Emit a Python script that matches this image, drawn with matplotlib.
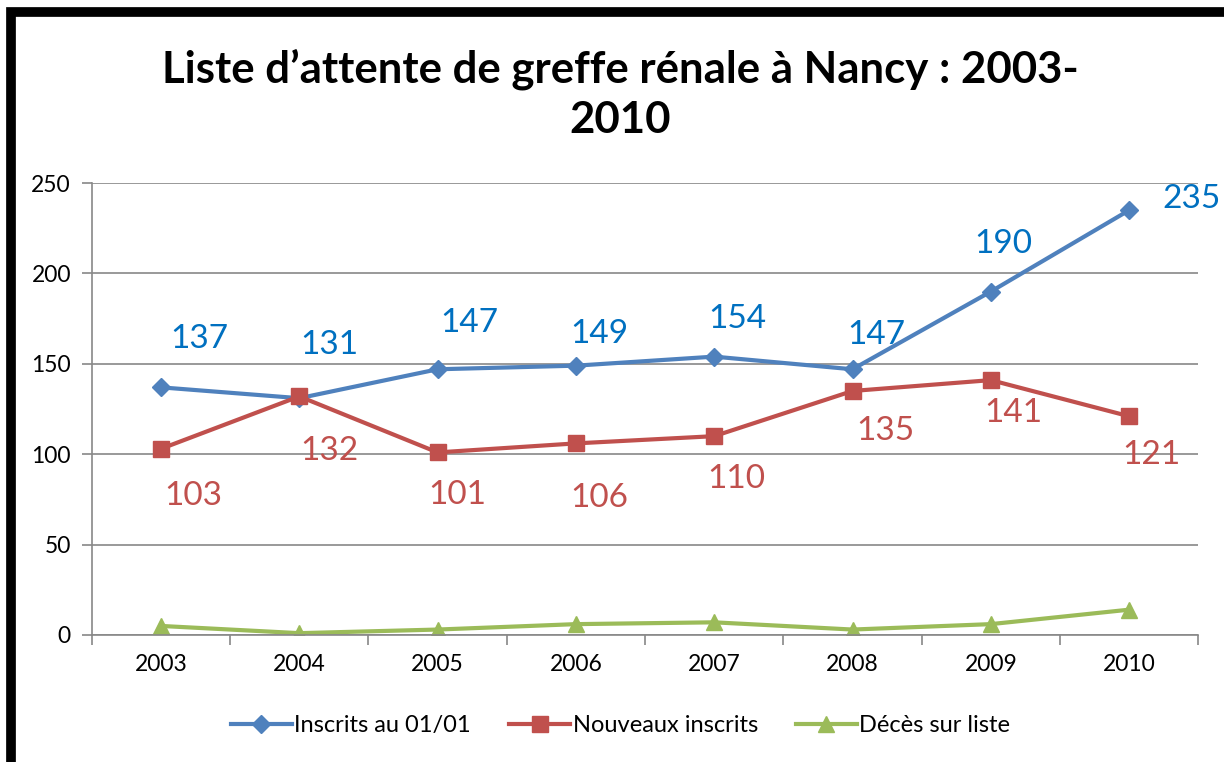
import matplotlib.pyplot as plt
from matplotlib.patches import Rectangle

plt.rcParams['font.family'] = ['Lato', 'DejaVu Sans']

years = ['2003', '2004', '2005', '2006', '2007', '2008', '2009', '2010']
inscrits = [137, 131, 147, 149, 154, 147, 190, 235]
nouveaux = [103, 132, 101, 106, 110, 135, 141, 121]
deces = [5, 1, 3, 6, 7, 3, 6, 14]

blue = '#4F81BD'
red = '#C0504D'
green = '#9BBB59'

# label offsets in points (layout only)
blue_off = [(28, 35), (22, 38), (23, 33), (17, 23), (17, 27), (17, 25), (9, 34), (45, 8)]
red_off = [(23, -34), (22, -39), (14, -31), (17, -39), (16, -31), (24, -29), (16, -24), (16, -28)]

fig = plt.figure(figsize=(12.24, 7.62), dpi=100)
ax = fig.add_axes([0.075, 0.1667, 0.904, 0.593])

x = list(range(len(years)))
ax.plot(x, inscrits, color=blue, lw=3, marker='D', ms=9, label='Inscrits au 01/01')
ax.plot(x, nouveaux, color=red, lw=3, marker='s', ms=11, label='Nouveaux inscrits')
ax.plot(x, deces, color=green, lw=3, marker='^', ms=12, label='Décès sur liste')

for i, v in enumerate(inscrits):
    ax.annotate(str(v), (i, v), xytext=blue_off[i], textcoords='offset points',
                ha='center', va='center', fontsize=24, color='#0070C0')
for i, v in enumerate(nouveaux):
    ax.annotate(str(v), (i, v), xytext=red_off[i], textcoords='offset points',
                ha='center', va='center', fontsize=24, color=red)

ax.set_xlim(-0.5, 7.5)
ax.set_ylim(0, 250)
ax.set_yticks(range(0, 251, 50))
ax.set_xticks(x)
ax.set_xticklabels(years)
ax.set_xticks([i - 0.5 for i in range(9)], minor=True)
ax.tick_params(axis='x', which='major', length=0, pad=14, labelsize=16.5)
ax.tick_params(axis='x', which='minor', length=7, color='#888888', width=1.2)
ax.tick_params(axis='y', length=7, color='#888888', width=1.2, labelsize=16.5, pad=8)
ax.grid(axis='y', color='#888888', lw=1.2)
ax.set_axisbelow(True)
for s in ['top', 'right']:
    ax.spines[s].set_visible(False)
for s in ['left', 'bottom']:
    ax.spines[s].set_color('#888888')
    ax.spines[s].set_linewidth(1.2)

fig.text(0.507, 0.876, 'Liste d\u2019attente de greffe rénale à Nancy : 2003-\n2010',
         ha='center', va='center', fontsize=31.5, fontweight='bold', linespacing=1.3)

fig.legend(loc='center', bbox_to_anchor=(0.507, 0.048), ncol=3, frameon=False,
           fontsize=17, handlelength=2.6, columnspacing=1.6, handletextpad=0.1)

# thick outer border (left and top visible)
fig.patches.append(Rectangle((11 / 1224, -0.5), 2, 1.5 - 12 / 762, transform=fig.transFigure,
                             fill=False, edgecolor='black', lw=7))

fig.savefig('out.png', dpi=100)
